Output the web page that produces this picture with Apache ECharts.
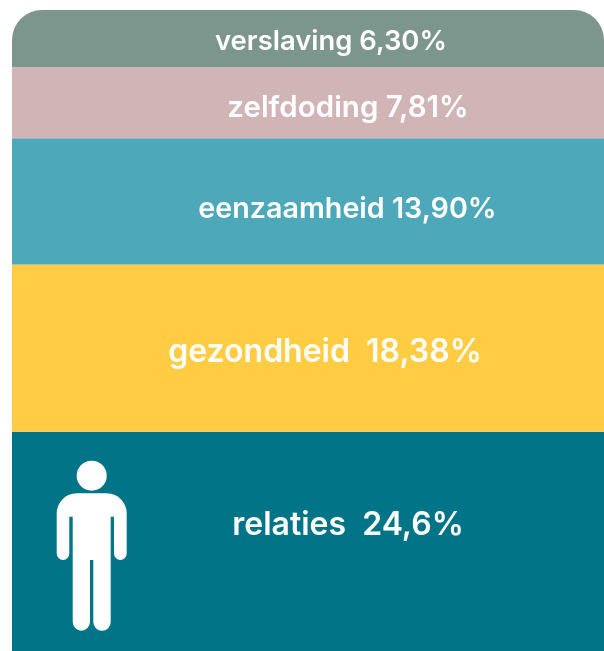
<!DOCTYPE html>
<html>
<head>
<meta charset="utf-8">
<style>html,body{margin:0;padding:0;background:#fff}#c{width:604px;height:651px}</style>
<script src="https://cdn.jsdelivr.net/npm/echarts@6/dist/echarts.min.js"></script>
</head>
<body>
<div id="c"></div>
<script>
const categories = ['relaties', 'gezondheid', 'eenzaamheid', 'zelfdoding', 'verslaving'];
const values = [24.6, 18.38, 13.9, 7.81, 6.3];
const valueTexts = ['relaties  24,6%', 'gezondheid  18,38%', 'eenzaamheid 13,90%', 'zelfdoding 7,81%', 'verslaving 6,30%'];
const colors = ['#017587', '#FFCC44', '#4DA8B9', '#D1B4B6', '#7C968E'];
const labelShift = [[40, -16], [17, 4], [39.5, 8], [40, 5], [23, 3]];
const labelSizes = [32, 32, 28.7, 29.5, 27.4];

const personBody = 'M76.7 493.3H106.7A20 20 0 0 1 126.7 513.3V553.6A6.35 6.35 0 0 1 114 553.6V516.7H110.7V622A8.7 8.7 0 0 1 93.3 622V560H90V622A8.65 8.65 0 0 1 72.7 622V516.7H69.3V553.6A6.3 6.3 0 0 1 56.7 553.6V513.3A20 20 0 0 1 76.7 493.3Z';

const total = values.reduce((a, b) => a + b, 0);
const chart = echarts.init(document.getElementById('c'), null, {renderer: 'canvas'});
const barSeries = categories.map((name, i) => ({
  name,
  type: 'bar',
  stack: 'all',
  barWidth: '100%',
  data: [values[i]],
  itemStyle: {
    color: colors[i],
    borderRadius: i === categories.length - 1 ? [30, 30, 0, 0] : 0
  },
  label: {
    show: true,
    position: 'inside',
    formatter: valueTexts[i],
    offset: labelShift[i],
    color: '#fff',
    fontFamily: 'Inter',
    fontWeight: 600,
    fontSize: labelSizes[i]
  }
}));
const personSeries = {
  type: 'custom',
  coordinateSystem: 'none',
  silent: true,
  clip: false,
  z: 10,
  data: [0],
  renderItem: () => ({
    type: 'group',
    children: [
      {type: 'circle', shape: {cx: 91.7, cy: 475.7, r: 15}, style: {fill: '#fff'}},
      {type: 'path', shape: {pathData: personBody, x: 56.7, y: 493.3, width: 70, height: 137.4, layout: 'cover'}, style: {fill: '#fff'}}
    ]
  })
};
chart.setOption({
  animation: false,
  backgroundColor: '#fff',
  grid: {left: 12, top: 10, width: 595, height: 641},
  xAxis: {type: 'category', data: ['suicide'], show: false},
  yAxis: {type: 'value', min: total - 70.52, max: total, show: false},
  series: barSeries.concat([personSeries])
});
</script>
</body>
</html>
